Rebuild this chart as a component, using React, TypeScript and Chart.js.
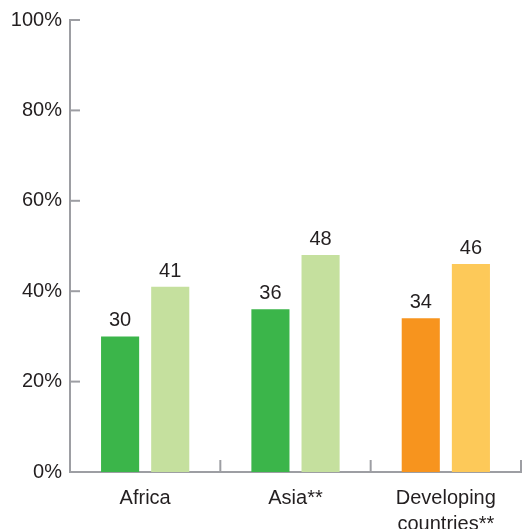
import React, { useEffect, useRef } from "react";
import { Chart, registerables } from "chart.js";

Chart.register(...registerables);

const categories: (string | string[])[] = ["Africa", "Asia**", ["Developing", "countries**"]];
const seriesA: number[] = [30, 36, 34];
const seriesB: number[] = [41, 48, 46];
const colorsA: string[] = ["#3bb54a", "#3bb54a", "#f7941e"];
const colorsB: string[] = ["#c5e09e", "#c5e09e", "#fdc959"];
const yTicks: number[] = [0, 20, 40, 60, 80, 100];

const AXIS = "#9d9ea3";
const TEXT = "#231f20";
const FONT = "'Liberation Sans', Arial, sans-serif";

const decorPlugin = {
  id: "decor",
  afterDatasetsDraw(chart: any) {
    const ctx = chart.ctx;
    const x = chart.scales.x;
    const y = chart.scales.y;
    const area = chart.chartArea;
    ctx.save();
    ctx.strokeStyle = AXIS;
    ctx.lineWidth = 2;
    yTicks.forEach((v) => {
      const py = y.getPixelForValue(v);
      ctx.beginPath();
      ctx.moveTo(area.left, py);
      ctx.lineTo(area.left + 10, py);
      ctx.stroke();
    });
    const n = categories.length;
    for (let i = 0; i < n; i++) {
      let px: number;
      if (i < n - 1) px = (x.getPixelForTick(i) + x.getPixelForTick(i + 1)) / 2;
      else px = area.right;
      ctx.beginPath();
      ctx.moveTo(px, area.bottom);
      ctx.lineTo(px, area.bottom - 12);
      ctx.stroke();
    }
    ctx.fillStyle = TEXT;
    ctx.font = `20px ${FONT}`;
    ctx.textAlign = "center";
    ctx.textBaseline = "alphabetic";
    chart.data.datasets.forEach((ds: any, di: number) => {
      const meta = chart.getDatasetMeta(di);
      meta.data.forEach((bar: any, i: number) => {
        ctx.fillText(String(ds.data[i]), bar.x, bar.y - 10);
      });
    });
    ctx.restore();
  },
};

export default function App() {
  const ref = useRef<HTMLCanvasElement | null>(null);
  useEffect(() => {
    document.body.style.margin = "0";
    if (!ref.current) return;
    const chart = new Chart(ref.current, {
      type: "bar",
      data: {
        labels: categories,
        datasets: [
          { data: seriesA, backgroundColor: colorsA, categoryPercentage: 0.667, barPercentage: 0.76 },
          { data: seriesB, backgroundColor: colorsB, categoryPercentage: 0.667, barPercentage: 0.76 },
        ],
      },
      options: {
        animation: false,
        responsive: true,
        maintainAspectRatio: false,
        devicePixelRatio: 1,
        layout: { padding: { top: 20, right: 2, left: 0, bottom: 0 } },
        plugins: { legend: { display: false }, tooltip: { enabled: false } },
        scales: {
          y: {
            min: 0,
            max: 100,
            afterFit: (s: any) => {
              s.width = 70;
            },
            ticks: {
              stepSize: 20,
              padding: 8,
              color: TEXT,
              font: { size: 20, family: FONT },
              callback: (v: any) => v + "%",
            },
            grid: { display: false, drawTicks: false },
            border: { display: true, color: AXIS, width: 2 },
          },
          x: {
            afterFit: (s: any) => {
              s.height = 57;
            },
            ticks: {
              padding: 13,
              color: TEXT,
              font: { size: 20, family: FONT, lineHeight: 1.3 },
              maxRotation: 0,
            },
            grid: { display: false, drawTicks: false },
            border: { display: true, color: AXIS, width: 2 },
          },
        },
      },
      plugins: [decorPlugin],
    });
    return () => chart.destroy();
  }, []);
  return (
    <div style={{ position: "absolute", left: 0, top: 0, width: 523, height: 529 }}>
      <canvas ref={ref} />
    </div>
  );
}
